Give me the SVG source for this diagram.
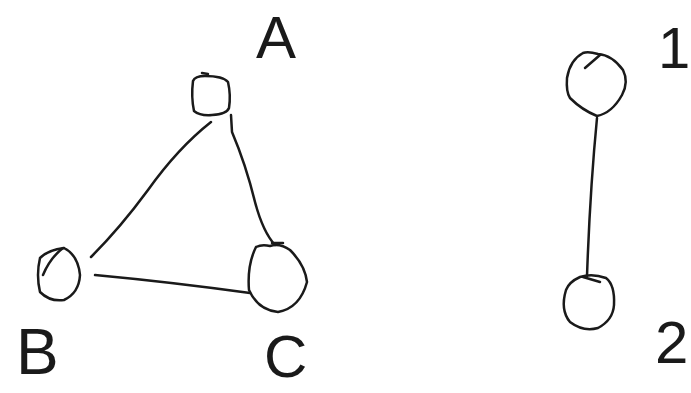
<svg xmlns="http://www.w3.org/2000/svg" width="691" height="393" viewBox="0 0 691 393">
<style>
.s{fill:none;stroke:#1a1a1a;stroke-width:2.5;stroke-linecap:round;stroke-linejoin:round}
.t{font-family:"Liberation Sans",Arial,sans-serif;fill:#1a1a1a}
</style>
<rect width="691" height="393" fill="#fff"/>
<g id="connectors">
<path class="s" d="M211 122 Q178 148 148 190 Q120 228 91 257"/>
<path class="s" d="M231 115 L232 132 Q246 165 255 202 Q263 232 275 245"/>
<path class="s" d="M95 275 Q170 282 250 293"/>
<path class="s" d="M597 118 Q590 190 587 276"/>
</g>
<g id="node-A">
<path class="s" d="M205 76 Q195 76 193 81 Q191 97 194 111 Q200 116 212 115 Q227 114 229 108 Q231 95 228 82 Q223 76 205 76 Z"/>
<path class="s" d="M202 73 L208 74"/>
<text class="t" x="256" y="58" font-size="60">A</text>
</g>
<g id="node-B">
<path class="s" d="M64 248 Q78 255 80 275 Q79 293 64 300 Q50 302 40 292 Q36 275 40 258 Q48 250 64 248"/>
<path class="s" d="M43 275 Q50 258 63 248"/>
<text class="t" x="16" y="374" font-size="64">B</text>
</g>
<g id="node-C">
<path class="s" d="M256 247 Q247 265 249 290 Q258 310 278 312 Q300 308 307 282 Q305 265 290 250 Q280 243 270 246 Q262 244 256 247"/>
<path class="s" d="M272 243 L283 243"/>
<text class="t" x="264" y="377" font-size="60">C</text>
</g>
<g id="node-1">
<path class="s" d="M583 53 Q570 60 567 78 Q566 92 570 98 Q582 110 597 116 Q612 113 622 95 Q629 82 623 70 Q612 55 598 54 Q588 51 583 53"/>
<path class="s" d="M585 68 L600 55"/>
<text class="t" x="658" y="68" font-size="58">1</text>
</g>
<g id="node-2">
<path class="s" d="M566 290 Q560 310 570 322 Q583 332 598 328 Q613 320 614 305 Q615 285 606 278 Q592 273 580 277 Q569 282 566 290"/>
<path class="s" d="M583 277 L600 282"/>
<text class="t" x="655" y="363" font-size="60">2</text>
</g>
</svg>
